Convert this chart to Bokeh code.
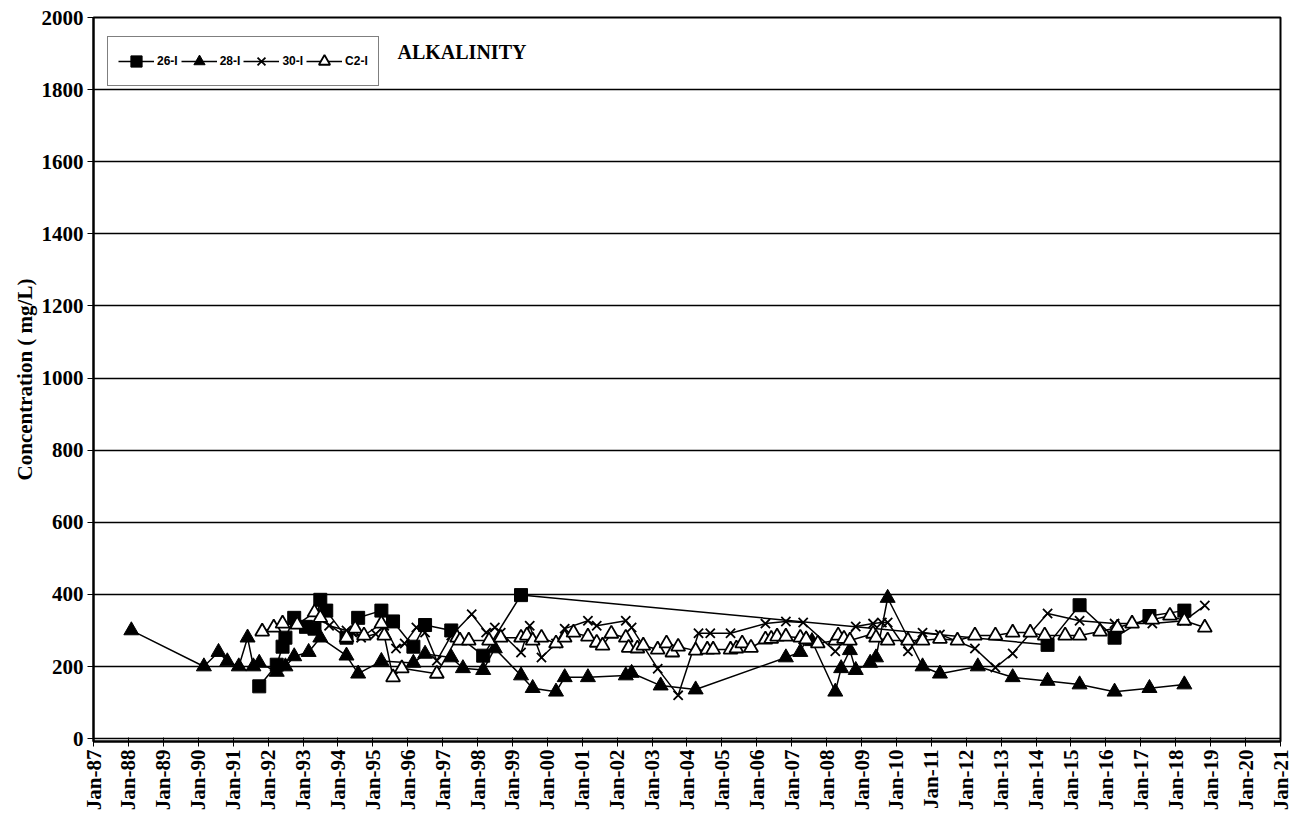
import math
from datetime import datetime
from bokeh.plotting import figure
from bokeh.models import (Range1d, FixedTicker, DatetimeTickFormatter, Legend, LegendItem,
                          Label, ColumnDataSource)
from bokeh.embed import file_html
from bokeh.resources import INLINE

# ---------------- data ----------------
d26 = ["1991-10", "1992-04", "1992-06", "1992-07", "1992-10", "1993-02", "1993-05", "1993-07",
       "1993-09", "1994-04", "1994-08", "1995-04", "1995-08", "1996-03", "1996-07", "1997-04",
       "1998-03", "1999-04", "2014-05", "2015-04", "2016-04", "2017-04", "2018-04"]
v26 = [145, 205, 255, 280, 335, 310, 305, 385, 355, 280, 335, 355, 325, 255, 315, 300,
       230, 398, 260, 370, 280, 340, 355]

d28 = ["1988-02", "1990-03", "1990-08", "1990-11", "1991-03", "1991-06", "1991-08", "1991-10",
       "1992-04", "1992-07", "1992-10", "1993-03", "1993-07", "1994-04", "1994-08", "1995-04",
       "1996-03", "1996-07", "1997-04", "1997-08", "1998-03", "1998-07", "1999-04", "1999-08",
       "2000-04", "2000-07", "2001-03", "2002-04", "2002-06", "2003-04", "2004-04", "2006-11",
       "2007-04", "2007-06", "2007-08", "2008-04", "2008-06", "2008-09", "2008-11", "2009-04",
       "2009-06", "2009-10", "2010-10", "2011-04", "2012-05", "2013-05", "2014-05", "2015-04",
       "2016-04", "2017-04", "2018-04"]
v28 = [300, 200, 240, 214, 200, 280, 200, 210, 185, 200, 228, 240, 280, 230, 180, 215,
       210, 235, 225, 195, 190, 250, 175, 140, 130, 170, 170, 175, 182, 147, 136, 225,
       240, 275, 270, 130, 195, 245, 190, 210, 225, 390, 200, 180, 200, 170, 160, 150,
       130, 140, 150]

d30 = ["1993-04", "1993-07", "1993-10", "1994-04", "1994-06", "1994-09", "1995-02", "1995-05",
       "1995-09", "1995-12", "1996-04", "1996-07", "1996-11", "1997-04", "1997-11", "1998-04",
       "1998-07", "1998-09", "1999-04", "1999-07", "1999-11", "2000-04", "2000-07", "2001-03",
       "2001-06", "2002-04", "2002-06", "2003-03", "2003-10", "2004-05", "2004-09", "2005-04",
       "2006-04", "2006-11", "2007-05", "2008-04", "2008-11", "2009-05", "2009-08", "2009-10",
       "2010-05", "2010-10", "2011-04", "2012-04", "2012-11", "2013-05", "2014-05", "2015-04",
       "2016-04", "2017-05", "2018-04", "2018-11"]
v30 = [308, 333, 313, 300, 294, 280, 290, 313, 250, 264, 308, 294, 216, 286, 345, 294,
       308, 294, 239, 313, 225, 264, 305, 327, 313, 327, 308, 194, 120, 292, 292, 292,
       319, 325, 322, 242, 311, 319, 322, 322, 242, 294, 289, 250, 197, 236, 347, 327,
       319, 319, 327, 369]

dC2 = ["1991-11", "1992-03", "1992-06", "1992-11", "1993-05", "1993-07", "1994-04", "1994-07",
       "1994-10", "1995-04", "1995-05", "1995-08", "1995-11", "1996-11", "1997-06", "1997-07",
       "1997-10", "1998-05", "1998-09", "1999-04", "1999-06", "1999-08", "1999-11", "2000-04",
       "2000-07", "2000-10", "2001-03", "2001-06", "2001-08", "2001-11", "2002-04", "2002-05",
       "2002-08", "2002-10", "2003-03", "2003-06", "2003-08", "2003-10", "2004-04", "2004-08",
       "2004-10", "2005-04", "2005-06", "2005-08", "2005-11", "2006-04", "2006-06", "2006-08",
       "2006-11", "2007-04", "2007-06", "2007-10", "2008-04", "2008-05", "2008-07", "2008-09",
       "2009-05", "2009-06", "2009-10", "2010-05", "2010-10", "2011-04", "2011-10", "2012-04",
       "2012-11", "2013-05", "2013-11", "2014-04", "2014-11", "2015-04", "2015-11", "2016-05",
       "2016-10", "2017-05", "2017-11", "2018-04", "2018-11"]
vC2 = [297, 308, 319, 316, 350, 335, 280, 305, 286, 319, 286, 170, 195, 180, 280, 272,
       272, 272, 280, 280, 286, 272, 280, 264, 280, 294, 283, 266, 258, 291, 280, 252,
       250, 258, 247, 264, 239, 255, 244, 247, 247, 247, 250, 264, 252, 275, 277, 283,
       283, 280, 275, 264, 272, 286, 277, 272, 291, 280, 272, 272, 272, 277, 272, 286,
       286, 294, 294, 286, 286, 286, 297, 308, 319, 330, 341, 327, 308]

tick_years = list(range(1987, 2022))
y_ticks = list(range(0, 2001, 200))

series_names = ["26-I", "28-I", "30-I", "C2-I"]


def to_dt(lst):
    return [datetime.strptime(s, "%Y-%m") for s in lst]


def ms(dt):
    return (dt - datetime(1970, 1, 1)).total_seconds() * 1000.0


# ---------------- figure ----------------
SERIF = "Liberation Serif"
SANS = "Liberation Sans"

p = figure(width=1293, height=825, x_axis_type="datetime",
           output_backend="svg", toolbar_location=None,
           x_range=Range1d(datetime(1987, 1, 1), datetime(2021, 1, 1)),
           y_range=Range1d(-8, 2000),
           min_border_left=93, min_border_right=13, min_border_top=17, min_border_bottom=84)

p.background_fill_color = "white"
p.border_fill_color = "white"
p.outline_line_color = "black"
p.outline_line_width = 2

# grid
p.xgrid.visible = False
p.ygrid.grid_line_color = "black"
p.ygrid.grid_line_width = 1.5
p.ygrid.ticker = FixedTicker(ticks=y_ticks)

# y axis
p.yaxis.ticker = FixedTicker(ticks=y_ticks)
p.yaxis.axis_line_color = "black"
p.yaxis.axis_line_width = 2
p.yaxis.major_tick_out = 6
p.yaxis.major_tick_in = 0
p.yaxis.minor_tick_line_color = None
p.yaxis.major_label_text_font = SERIF
p.yaxis.major_label_text_font_style = "bold"
p.yaxis.major_label_text_font_size = "21px"
p.yaxis.major_label_text_color = "black"
p.yaxis.major_label_standoff = 4
p.yaxis.axis_label = "Concentration ( mg/L)"
p.yaxis.axis_label_text_font = SERIF
p.yaxis.axis_label_text_font_style = "bold"
p.yaxis.axis_label_text_font_size = "21px"
p.yaxis.axis_label_text_color = "black"
p.yaxis.axis_label_standoff = 2

# x axis
p.xaxis.ticker = FixedTicker(ticks=[ms(datetime(y, 1, 1)) for y in tick_years])
fmt = "%b-%y"
p.xaxis.formatter = DatetimeTickFormatter(
    microseconds=fmt, milliseconds=fmt, seconds=fmt, minsec=fmt, minutes=fmt,
    hourmin=fmt, hours=fmt, days=fmt, months=fmt, years=fmt)
p.xaxis.major_label_orientation = math.pi / 2
p.xaxis.axis_line_color = "black"
p.xaxis.axis_line_width = 2
p.xaxis.major_tick_out = 5
p.xaxis.major_tick_in = 4
p.xaxis.minor_tick_line_color = None
p.xaxis.major_label_text_font = SERIF
p.xaxis.major_label_text_font_style = "bold"
p.xaxis.major_label_text_font_size = "21px"
p.xaxis.major_label_text_color = "black"
p.xaxis.major_label_standoff = 3

# ---------------- series ----------------
all_dates = [d26, d28, d30, dC2]
all_vals = [v26, v28, v30, vC2]
items = []
for name, dts, vals in zip(series_names, all_dates, all_vals):
    src = ColumnDataSource(dict(x=to_dt(dts), y=vals))
    ln = p.line("x", "y", source=src, line_color="black", line_width=1.5)
    if name == "26-I":
        mk = p.scatter("x", "y", source=src, marker="square", size=13,
                       fill_color="black", line_color="black")
    elif name == "28-I":
        mk = p.scatter("x", "y", source=src, marker="triangle", size=15,
                       fill_color="black", line_color="black")
    elif name == "30-I":
        mk = p.scatter("x", "y", source=src, marker="x", size=13,
                       line_color="black", line_width=1.8)
    else:
        mk = p.scatter("x", "y", source=src, marker="triangle", size=14,
                       fill_color="white", line_color="black", line_width=1.8)
    items.append(LegendItem(label=name, renderers=[ln, mk]))

legend = Legend(items=items, orientation="horizontal", location=(14, 655),
                label_text_font=SANS, label_text_font_style="bold",
                label_text_font_size="12px", label_text_color="black", label_standoff=3,
                glyph_width=36, glyph_height=28, spacing=3, padding=10,
                border_line_color="black", border_line_width=1.5,
                background_fill_color="white", background_fill_alpha=1)
p.add_layout(legend, "center")

title = Label(x=304, y=679, x_units="screen", y_units="screen", text="ALKALINITY",
              text_font=SERIF, text_font_style="bold", text_font_size="20px",
              text_color="black")
p.add_layout(title)

open("out.html", "w").write(file_html(p, INLINE))
